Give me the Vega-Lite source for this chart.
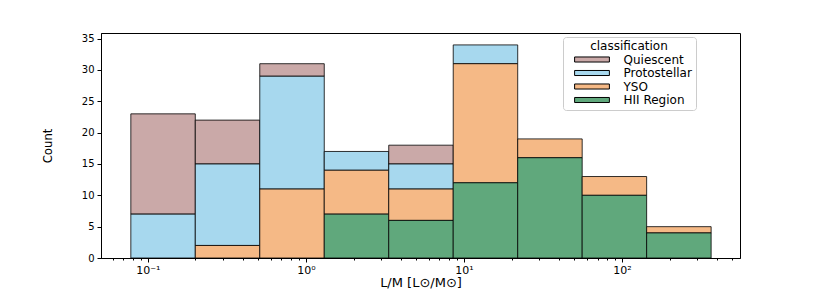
{
  "$schema": "https://vega.github.io/schema/vega-lite/v6.json",
  "width": 639,
  "height": 225,
  "autosize": {"type": "none"},
  "padding": {"left": 101, "top": 33, "right": 82, "bottom": 32},
  "background": "white",
  "data": {"values": [
    {"lo": 0.078, "hi": 0.1995, "classification": "Quiescent", "count": 16},
    {"lo": 0.078, "hi": 0.1995, "classification": "Protostellar", "count": 7},
    {"lo": 0.1995, "hi": 0.5105, "classification": "Quiescent", "count": 7},
    {"lo": 0.1995, "hi": 0.5105, "classification": "Protostellar", "count": 13},
    {"lo": 0.1995, "hi": 0.5105, "classification": "YSO", "count": 2},
    {"lo": 0.5105, "hi": 1.306, "classification": "Quiescent", "count": 2},
    {"lo": 0.5105, "hi": 1.306, "classification": "Protostellar", "count": 18},
    {"lo": 0.5105, "hi": 1.306, "classification": "YSO", "count": 11},
    {"lo": 1.306, "hi": 3.342, "classification": "Protostellar", "count": 3},
    {"lo": 1.306, "hi": 3.342, "classification": "YSO", "count": 7},
    {"lo": 1.306, "hi": 3.342, "classification": "HII Region", "count": 7},
    {"lo": 3.342, "hi": 8.551, "classification": "Quiescent", "count": 3},
    {"lo": 3.342, "hi": 8.551, "classification": "Protostellar", "count": 4},
    {"lo": 3.342, "hi": 8.551, "classification": "YSO", "count": 5},
    {"lo": 3.342, "hi": 8.551, "classification": "HII Region", "count": 6},
    {"lo": 8.551, "hi": 21.88, "classification": "Protostellar", "count": 3},
    {"lo": 8.551, "hi": 21.88, "classification": "YSO", "count": 19},
    {"lo": 8.551, "hi": 21.88, "classification": "HII Region", "count": 12},
    {"lo": 21.88, "hi": 55.98, "classification": "YSO", "count": 3},
    {"lo": 21.88, "hi": 55.98, "classification": "HII Region", "count": 16},
    {"lo": 55.98, "hi": 143.2, "classification": "YSO", "count": 3},
    {"lo": 55.98, "hi": 143.2, "classification": "HII Region", "count": 10},
    {"lo": 143.2, "hi": 366.4, "classification": "YSO", "count": 1},
    {"lo": 143.2, "hi": 366.4, "classification": "HII Region", "count": 4}
  ]},
  "transform": [
    {"calculate": "indexof(['HII Region','YSO','Protostellar','Quiescent'], datum.classification)", "as": "stackorder"},
    {"stack": "count", "groupby": ["lo"], "sort": [{"field": "stackorder", "order": "ascending"}], "as": ["y0", "y1"]}
  ],
  "layer": [
    {
      "mark": {"type": "rect", "stroke": "black", "strokeWidth": 1, "strokeOpacity": 0.8, "opacity": 1},
      "encoding": {
        "x": {
          "field": "lo", "type": "quantitative",
          "scale": {"type": "log", "domain": [0.0505, 558], "nice": false},
          "axis": {
            "orient": "bottom",
            "values": [0.1, 1, 10, 100],
            "labelExpr": "datum.value == 0.1 ? '10⁻¹' : datum.value == 1 ? '10⁰' : datum.value == 10 ? '10¹' : '10²'",
            "title": "L/M [L⊙/M⊙]",
            "titleFont": "DejaVu Sans", "titleFontSize": 13, "titleFontWeight": "normal", "titlePadding": 1,
            "labelFont": "DejaVu Sans", "labelFontSize": 11, "labelColor": "black", "labelPadding": 2,
            "tickSize": 4, "tickColor": "black", "domainColor": "black", "grid": false
          }
        },
        "x2": {"field": "hi"},
        "y": {
          "field": "y0", "type": "quantitative",
          "scale": {"domain": [0, 35.9], "nice": false},
          "axis": {
            "values": [0, 5, 10, 15, 20, 25, 30, 35],
            "labelOverlap": false,
            "title": "Count", "titleFont": "DejaVu Sans Condensed", "titleFontSize": 13, "titleFontWeight": "normal", "titlePadding": 27,
            "labelFont": "DejaVu Sans", "labelFontSize": 10, "labelColor": "black", "labelPadding": 3,
            "tickSize": 4, "tickColor": "black", "domainColor": "black", "grid": false
          }
        },
        "y2": {"field": "y1"},
        "color": {
          "field": "classification", "type": "nominal",
          "scale": {"domain": ["Quiescent", "Protostellar", "YSO", "HII Region"], "range": ["#caa9a8", "#a7d8ee", "#f5b986", "#60a87c"]},
          "legend": {
            "orient": "none", "legendX": 462, "legendY": 4,
            "title": "classification", "titleFont": "DejaVu Sans", "titleFontSize": 12, "titleFontWeight": "normal", "titleAnchor": "middle", "titleColor": "black", "titlePadding": 0,
            "labelFont": "DejaVu Sans", "labelFontSize": 12, "labelColor": "black",
            "symbolType": "M-2.9,-0.42H2.9V0.42H-2.9Z", "symbolSize": 144, "symbolStrokeColor": "black", "symbolStrokeWidth": 1, "symbolOpacity": 1,
            "symbolOffset": 18.5,
            "rowPadding": 0.5, "labelOffset": 25,
            "strokeColor": "#cccccc", "cornerRadius": 3, "padding": 4, "fillColor": "white"
          }
        }
      }
    },
    {
      "mark": {"type": "rect", "opacity": 0},
      "encoding": {
        "x": {
          "field": "lo", "type": "quantitative",
          "axis": {
            "orient": "bottom",
            "values": [0.06, 0.07, 0.08, 0.09, 0.2, 0.3, 0.4, 0.5, 0.6, 0.7, 0.8, 0.9, 2, 3, 4, 5, 6, 7, 8, 9, 20, 30, 40, 50, 60, 70, 80, 90, 200, 300, 400, 500],
            "labels": false, "title": null, "tickSize": 2, "tickColor": "black", "domain": false, "grid": false
          }
        },
        "x2": {"field": "hi"},
        "y": {
          "field": "y0", "type": "quantitative",
          "axis": {
            "values": [0, 5, 10, 15, 20, 25, 30, 35],
            "labelOverlap": false,
            "title": "Count", "titleFont": "DejaVu Sans Condensed", "titleFontSize": 13, "titleFontWeight": "normal", "titlePadding": 27,
            "labelFont": "DejaVu Sans", "labelFontSize": 10, "labelColor": "black", "labelPadding": 3,
            "tickSize": 4, "tickColor": "black", "domainColor": "black", "grid": false
          }
        },
        "y2": {"field": "y1"}
      }
    }
  ],
  "resolve": {"axis": {"x": "independent"}},
  "config": {"view": {"stroke": "black", "strokeWidth": 1}}
}
